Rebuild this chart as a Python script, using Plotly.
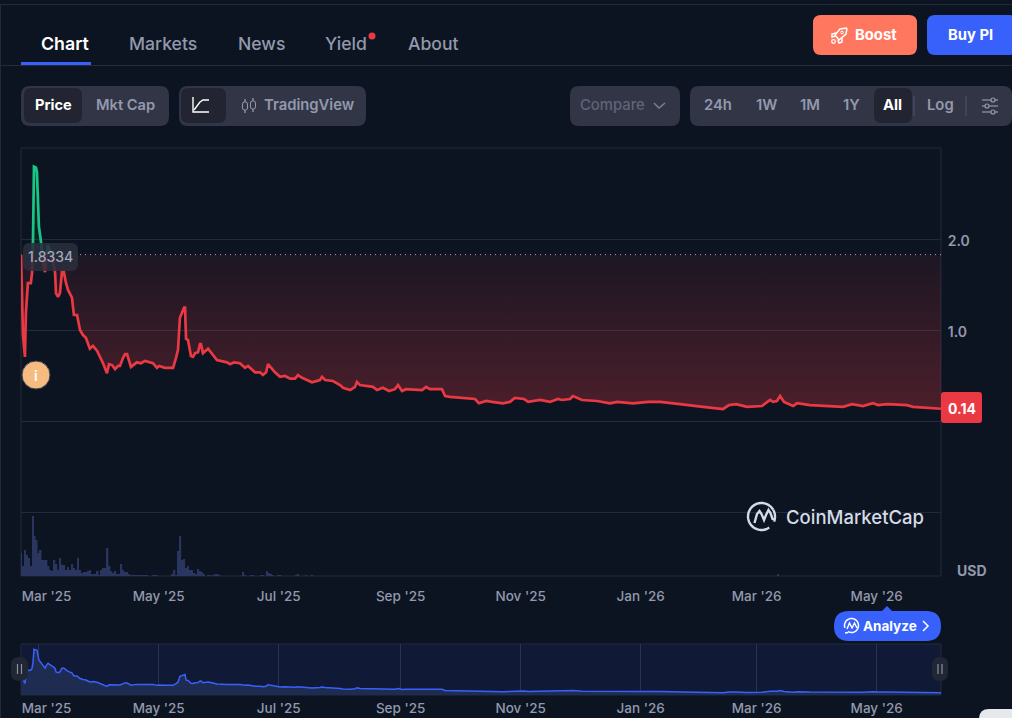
import numpy as np
import pandas as pd
import plotly.graph_objects as go

W, H = 1012, 718
BG = "#0d1421"
GRID = "#232b3a"
MUTED = "#9299ad"
RED = "#ea3943"
GREEN = "#16c784"
BLUE = "#3861fb"
PANEL = "#323546"
ACTIVE = "#222531"
FONT = "Inter"

LISTING_DATE = "2025-02-20"
OPEN_PRICE = 1.8334
LAST_PRICE = 0.14

# Price history: days since listing and USD price
price_days = [
    0, .5, 1, 2, 2.5, 3.5, 5, 5.6, 6.1, 6.6, 7.6, 8.1, 9.1, 10.2, 11.2, 12.2, 13.2, 13.7, 14.7, 16.3,
    17.3, 17.8, 18.8, 19.8, 20.8, 21.8, 22.9, 23.9, 25.9, 26.9, 28.5, 30, 31.5, 33, 35, 36.6, 38.7, 40.2, 41.7, 43.7,
    44.7, 46.3, 47.8, 49.3, 50.3, 51.9, 52.9, 53.9, 55.9, 58.9, 61, 63, 65.6, 67.1, 69.1, 70.2, 73.2, 77.3, 78.8, 79.8,
    80.8, 81.9, 82.9, 83.4, 83.9, 84.9, 86.4, 87.4, 88.5, 90, 91, 91.5, 92.5, 95.1, 97.1, 99.6, 104.7, 106.3, 108.3, 111.3,
    113.9, 115.4, 119, 121.5, 123, 124.6, 125.6, 127.1, 129.1, 131.7, 134.2, 136.8, 139.3, 140.8, 142.9, 147.9, 152, 153, 154.6, 158.6,
    162.2, 163.7, 167.3, 169.8, 170.8, 172.3, 178.9, 181, 184, 187.1, 190.1, 191.7, 193.7, 195.7, 203.9, 205.9, 207.9, 214, 215.6, 218.1,
    226.7, 230.8, 232.8, 236.4, 239.5, 245, 248.6, 251.1, 255.7, 257.8, 263.9, 268.9, 273, 275, 279.1, 280.6, 285.2, 292.8, 299.4, 303,
    311.1, 318.8, 324.9, 332.5, 335, 346.7, 356.9, 359.9, 363.5, 369.1, 376.7, 380.8, 382.3, 384.3, 385.9, 387.9, 392.5, 394.5, 401.1, 417.9,
    422.5, 428, 433.1, 435.7, 440.3, 450.4, 453.5, 467.7,
]
price_usd = [
    1.8334, 1.335, .95, .71, 1.19, 1.52, 1.52, 1.63, 1.99, 2.80, 2.79, 2.74, 2.14, 1.97, 1.75, 1.64, 1.88, 1.94, 1.86, 1.75,
    1.64, 1.41, 1.37, 1.41, 1.64, 1.64, 1.52, 1.445, 1.36, 1.17, 1.17, 1.005, .95, .92, .80, .83, .775, .71, .64, .53,
    .63, .62, .575, .61, .61, .70, .74, .74, .60, .65, .64, .665, .65, .64, .59, .61, .59, .59, .70, .785,
    1.14, 1.20, 1.25, 1.25, .91, .895, .72, .71, .75, .76, .85, .85, .75, .80, .75, .675, .65, .63, .65, .64,
    .59, .61, .54, .54, .51, .54, .63, .59, .54, .49, .50, .47, .47, .51, .48, .43, .455, .49, .455, .445,
    .40, .37, .345, .38, .435, .40, .38, .345, .37, .335, .355, .40, .335, .355, .345, .38, .355, .355, .28, .27,
    .26, .247, .20, .225, .215, .20, .215, .26, .247, .215, .236, .215, .247, .236, .247, .28, .236, .225, .20, .215,
    .20, .215, .215, .20, .19, .16, .137, .18, .19, .16, .17, .236, .215, .225, .28, .215, .17, .20, .18, .16,
    .19, .17, .20, .18, .19, .18, .16, LAST_PRICE,
]

# Daily traded volume, tens of millions of USD
volume_days = list(range(0, 60)) + [
    60, 61, 62, 63, 64, 67, 68, 69, 77, 78, 79, 80, 81, 82, 83, 84, 85, 86, 87, 88, 89, 90, 91, 92, 93,
    95, 96, 98, 99, 100, 101, 113, 114, 117, 118, 122, 123, 125, 126, 127, 128, 131, 132, 140, 141, 145, 148, 385,
]
volume_values = [
    23, 10, 26, 21, 18, 10, 60, 40, 36, 23, 26, 16, 16, 16, 10, 6, 5, 16, 12, 6,
    18, 11, 11, 6, 9, 6, 12, 8, 6, 18, 6, 3, 4, 4, 5, 6, 2, 2, 2, 5,
    1, 6, 8, 8, 28, 10, 5, 3, 5, 2, 2, 12, 6, 4, 4, 2, 1, 1, 1, 1,
    .5, .5, 1, .5, .5, 1, 1, 1, 2, 6, 1, 25, 40, 16, 17, 8, 10, 6, 6, 3, 2, 7, 5, 4, 2,
    1, 1, 1, 2, 2, 1, 4, 1, .5, .5, .5, .5, 5, 3, 2, 1, 1, 1, .5, 2, .5, .5, 2,
]

month_labels = ["Mar '25", "May '25", "Jul '25", "Sep '25", "Nov '25", "Jan '26", "Mar '26", "May '26"]
month_starts = ["2025-03-01", "2025-05-01", "2025-07-01", "2025-09-01",
                "2025-11-01", "2026-01-01", "2026-03-01", "2026-05-01"]
# The first label sits inside the plot edge, so its tick is nudged right
month_label_dates = ["2025-03-05"] + month_starts[1:]
price_ticks = [2, 1, 0, -1]
price_tick_labels = ["2.0", "1.0", "", ""]

tabs = [("Chart", 65, "white", 17.8, 600), ("Markets", 163, MUTED, 17.6, 500), ("News", 261.5, MUTED, 17.6, 500),
        ("Yield", 346, MUTED, 17.6, 500), ("About", 433.5, MUTED, 17.6, 500)]


def to_date(days):
    return pd.Timestamp(LISTING_DATE) + pd.to_timedelta(np.asarray(days, dtype=float), unit="D")


def split_at_open(days, prices, level):
    """Insert the points where the price crosses the opening level."""
    xs, ys = [days[0]], [prices[0]]
    for i in range(1, len(days)):
        a, b = prices[i - 1] - level, prices[i] - level
        if a * b < 0:
            t = a / (a - b)
            xs.append(days[i - 1] + t * (days[i] - days[i - 1]))
            ys.append(level)
        xs.append(days[i])
        ys.append(prices[i])
    return np.array(xs), np.array(ys)


def px(x):
    return x / W


def py(y):
    return 1 - y / H


def path(points, close=False):
    d = "M" + " L".join(f"{px(x):.5f},{py(y):.5f}" for x, y in points)
    return d + (" Z" if close else "")


def rounded(x0, y0, x1, y1, r):
    k = [(x0 + r, y0), (x1 - r, y0), (x1, y0), (x1, y0 + r), (x1, y1 - r), (x1, y1),
         (x1 - r, y1), (x0 + r, y1), (x0, y1), (x0, y1 - r), (x0, y0 + r), (x0, y0)]
    p = [f"{px(a):.5f},{py(b):.5f}" for a, b in k]
    return (f"M{p[0]} L{p[1]} Q{p[2]} {p[3]} L{p[4]} Q{p[5]} {p[6]} "
            f"L{p[7]} Q{p[8]} {p[9]} L{p[10]} Q{p[11]} {p[0]} Z")


shapes, notes = [], []


def box(x0, y0, x1, y1, r, fill, layer="above", opacity=1.0, line=None):
    shapes.append(dict(type="path", path=rounded(x0, y0, x1, y1, r), xref="paper", yref="paper",
                       fillcolor=fill, line=dict(width=1 if line else 0, color=line or fill),
                       layer=layer, opacity=opacity))


def stroke(points, color, width=1.5, fill=None, close=False, layer="above"):
    shapes.append(dict(type="path", path=path(points, close), xref="paper", yref="paper",
                       line=dict(color=color, width=width), fillcolor=fill or "rgba(0,0,0,0)", layer=layer))


def disc(cx, cy, r, fill, line=None, width=1):
    shapes.append(dict(type="circle", xref="paper", yref="paper", x0=px(cx - r), x1=px(cx + r),
                       y0=py(cy + r), y1=py(cy - r), fillcolor=fill,
                       line=dict(color=line or fill, width=width if line else 0), layer="above"))


def arc(cx, cy, r, a0, a1, n=36):
    t = np.radians(np.linspace(a0, a1, n))
    return list(zip(cx + r * np.cos(t), cy + r * np.sin(t)))


def label(text, x, y, size=14, color=MUTED, weight=600, anchor="center"):
    notes.append(dict(text=text, x=px(x), y=py(y), xref="paper", yref="paper", showarrow=False,
                      xanchor=anchor, yanchor="middle", borderpad=0,
                      font=dict(family=FONT, size=size, color=color, weight=weight)))


# Page furniture
stroke([(0, 4.5), (W, 4.5)], GRID, 1, layer="below")
stroke([(0.5, 4), (0.5, H)], GRID, 1, layer="below")
stroke([(0, 65.5), (W, 65.5)], GRID, 1, layer="below")
box(21, 62, 91, 65, 0, BLUE)
for name, cx, col, size, weight in tabs:
    label(name, cx, 44, size, col, weight)
disc(372, 36, 3.5, RED)

# Action buttons
box(813, 15, 917, 55, 8, "#ff775f")
label("Boost", 876, 35, 14.8, "white", 700)
stroke([(847, 28), (840, 29), (835, 35), (839, 40), (846, 34), (847, 28)], "white", 1.5)
stroke([(836, 33), (832, 34), (832, 37), (835.5, 36)], "white", 1.5)
stroke([(842, 38), (842, 42), (839, 43), (838, 40)], "white", 1.5)
disc(842, 32.5, 1.3, "rgba(0,0,0,0)", "white", 1)
disc(833.5, 41.5, 1.8, "rgba(0,0,0,0)", "white", 1.3)
box(927, 15, 1018, 55, 8, BLUE)
label("Buy PI", 970, 35, 14.8, "white", 700)

# Chart mode toggles
box(21, 86, 169, 126, 9, PANEL)
box(24, 88, 82, 123, 7, ACTIVE)
label("Price", 53.5, 105, 14.6, "white", 700)
label("Mkt Cap", 125, 105, 14.7, MUTED)
box(179, 86, 366, 126, 9, PANEL)
box(181, 88, 226, 123, 7, ACTIVE)
stroke([(193, 97), (193, 112), (209, 112)], "white", 1.4)
stroke([(194, 110), (200, 102), (203, 100), (209, 100)], "white", 1.4)
for cx, y0, y1 in ((245, 102, 110), (253, 101, 109)):
    box(cx - 2.5, y0, cx + 2.5, y1, 2, "rgba(0,0,0,0)", line=MUTED)
    stroke([(cx, y0 - 3), (cx, y0)], MUTED, 1.3)
    stroke([(cx, y1), (cx, y1 + 3)], MUTED, 1.3)
label("TradingView", 309, 105, 14.8, MUTED)

# Range selector
box(570, 86, 680, 126, 9, PANEL)
label("Compare", 612.5, 105, 14.8, "#5f6478", 500)
stroke([(654, 103), (659, 108), (665, 103)], "#7b8094", 1.4)
box(690, 86, 1012, 126, 9, PANEL)
box(874, 88, 912, 123, 7, ACTIVE)
for name, cx in (("24h", 718), ("1W", 766), ("1M", 810), ("1Y", 851), ("Log", 940)):
    label(name, cx, 105, 14.8, MUTED)
label("All", 892.5, 105, 14.8, "white", 700)
for x in (914, 966):
    stroke([(x, 96), (x, 116)], "#50556a", 1)
for y, cx in ((100, 993), (106, 987), (112, 993)):
    stroke([(982, y), (998, y)], MUTED, 1.2)
    disc(cx, y, 2, PANEL, MUTED, 1.2)

# Plot frames
box(21, 148, 941, 576, 0, "rgba(0,0,0,0)", layer="below", line=GRID)
box(21, 644, 941, 695, 0, "#101a36", layer="below", line=GRID)

# Opening price tag and last price tag
box(23, 243, 78, 271, 7, "#2a2f3e", opacity=0.88)
label(f"{OPEN_PRICE:.4f}", 50.5, 257, 14, "#a1a7bb", 500)
box(941, 392, 982, 423, 3, RED)
label(f"{LAST_PRICE:.2f}", 961.5, 408.5, 14, "white", 700)

# Info marker
disc(36, 375, 14, "#f5bb80", "#3a4050", 1)
label("i", 36, 375, 14, "white", 600)

# Watermark
stroke(arc(761.5, 516.5, 13.5, -30, 22) , "#d5dbe6", 2.4)
stroke(arc(761.5, 516.5, 13.5, 55, 330), "#d5dbe6", 2.4)
stroke([(754.5, 523), (757, 514), (759.5, 511), (761.5, 514), (764, 520), (766, 515), (768.5, 510),
        (770.5, 513), (772.5, 519), (775.5, 519.5)], "#d5dbe6", 2.4)
label("CoinMarketCap", 854.5, 517, 18.5, "#d5dbe6", 500)

label("USD", 972, 570, 14, MUTED, 700)

# Analyze pill
box(834, 611, 941, 641, 15, BLUE)
stroke([(882, 611), (887, 606), (892, 611)], BLUE, 0, fill=BLUE, close=True)
label("Analyze", 890, 626, 13.5, "white", 700)
stroke([(923, 621), (928, 626), (923, 631)], "white", 1.5)
stroke(arc(851.5, 625.5, 7, -200, 120), "white", 1.5)
stroke([(845, 633), (848, 632.5)], "white", 1.5)
stroke([(847, 629), (849.5, 623), (852, 628), (854.5, 623), (857, 628)], "white", 1.4)

# Navigator handles
for x0, x1 in ((11, 28), (932, 948)):
    box(x0, 657, x1, 681, 8, "#202633")
    for dx in (-2, 2):
        mid = (x0 + x1) / 2
        stroke([(mid + dx, 664), (mid + dx, 674)], "#8a90a3", 1.2)

# Corner of the next panel
box(979, 709, 1030, 730, 10, "#e6e8ec")

days, prices = split_at_open(price_days, price_usd, OPEN_PRICE)
dates = to_date(days)
start = to_date([0])[0]
end = to_date([price_days[-1]])[0]

fig = go.Figure()

# Volume bars
fig.add_trace(go.Bar(x=to_date(volume_days), y=volume_values, yaxis="y2", xaxis="x",
                     marker=dict(color="#2a3660", line=dict(width=0)), width=86400000 * 0.8))

# Opening level used as the upper edge of the fills
fig.add_trace(go.Scatter(x=dates, y=np.full(len(dates), OPEN_PRICE), mode="lines",
                         line=dict(width=0), xaxis="x", yaxis="y"))
fig.add_trace(go.Scatter(x=dates, y=np.minimum(prices, OPEN_PRICE), mode="lines", line=dict(width=0),
                         fill="tonexty", xaxis="x", yaxis="y",
                         fillgradient=dict(type="vertical", start=OPEN_PRICE, stop=LAST_PRICE,
                                           colorscale=[[0, "rgba(234,57,67,0.07)"], [1, "rgba(234,57,67,0.28)"]])))
fig.add_trace(go.Scatter(x=dates, y=np.full(len(dates), OPEN_PRICE), mode="lines",
                         line=dict(width=0), xaxis="x", yaxis="y"))
fig.add_trace(go.Scatter(x=dates, y=np.maximum(prices, OPEN_PRICE), mode="lines", line=dict(width=0),
                         fill="tonexty", fillcolor="rgba(22,199,132,0.06)", xaxis="x", yaxis="y"))

# Dotted opening price line
fig.add_trace(go.Scatter(x=[to_date([30])[0], end], y=[OPEN_PRICE, OPEN_PRICE], mode="lines",
                         line=dict(color="#a1a7bb", width=1, dash="1px 4px"), xaxis="x", yaxis="y"))

# Price line: green above the opening price, red below
fig.add_trace(go.Scatter(x=dates, y=np.where(prices >= OPEN_PRICE, prices, np.nan), mode="lines",
                         line=dict(color=GREEN, width=2.7), connectgaps=False, xaxis="x", yaxis="y"))
fig.add_trace(go.Scatter(x=dates, y=np.where(prices <= OPEN_PRICE, prices, np.nan), mode="lines",
                         line=dict(color=RED, width=2.7), connectgaps=False, xaxis="x", yaxis="y"))

# Navigator overview
fig.add_trace(go.Scatter(x=dates, y=prices, mode="lines", line=dict(color=BLUE, width=1.5),
                         fill="tozeroy", fillcolor="#1f2c52", xaxis="x2", yaxis="y3"))

tick_font = dict(family=FONT, size=13.5, color=MUTED, weight=500)
fig.update_layout(
    width=W, height=H, margin=dict(l=0, r=0, t=0, b=0, autoexpand=False), autosize=False,
    paper_bgcolor=BG, plot_bgcolor="rgba(0,0,0,0)", showlegend=False, hovermode=False,
    barmode="overlay", shapes=shapes, annotations=notes,
    font=dict(family=FONT, color=MUTED),
    xaxis=dict(domain=[px(21), px(941)], range=[start, end], type="date", anchor="y", automargin=False,
               tickmode="array", tickvals=month_label_dates, ticktext=month_labels, tickfont=tick_font,
               showgrid=False, zeroline=False, showline=False,
               ticks="outside", ticklen=8, tickcolor="rgba(0,0,0,0)"),
    yaxis=dict(domain=[py(576), py(148)], range=[-1.698, 3.005], side="right", anchor="x", automargin=False,
               tickmode="array", tickvals=price_ticks, ticktext=price_tick_labels,
               tickfont=dict(family=FONT, size=14, color=MUTED, weight=600),
               ticklabelshift=2,
               gridcolor=GRID, gridwidth=1, zeroline=False, showline=False,
               ticks="outside", ticklen=3, tickcolor="rgba(0,0,0,0)"),
    yaxis2=dict(domain=[py(576), py(148)], range=[0, 428], overlaying="y", anchor="x", automargin=False,
                showgrid=False, showticklabels=False, zeroline=False, showline=False),
    xaxis2=dict(domain=[px(21), px(941)], range=[start, end], type="date", anchor="y3", automargin=False,
                tickmode="array", tickvals=month_label_dates, ticktext=month_labels, tickfont=tick_font,
                showgrid=False, zeroline=False, showline=False,
                ticks="outside", ticklen=1, tickcolor="rgba(0,0,0,0)",
                minor=dict(tickmode="array", tickvals=month_starts, showgrid=True, gridcolor="#2a3350",
                           gridwidth=1, ticks="")),
    yaxis3=dict(domain=[py(695), py(644)], range=[0, 3.12], anchor="x2", automargin=False,
                showgrid=False, showticklabels=False, zeroline=False, showline=False),
)

fig.write_html("out.html", config=dict(displayModeBar=False))
